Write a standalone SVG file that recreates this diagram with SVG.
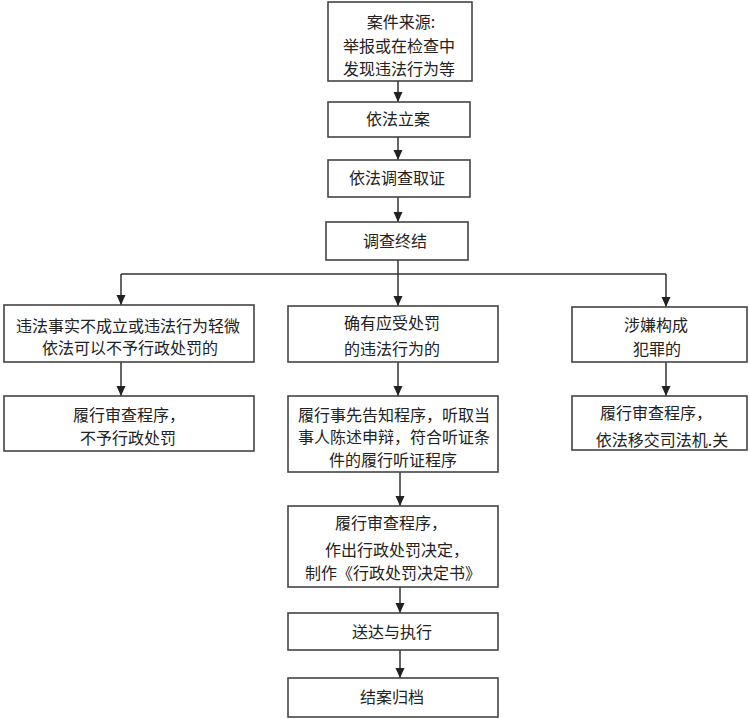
<svg xmlns="http://www.w3.org/2000/svg" width="750" height="719" viewBox="0 0 750 719">
<style>
.box{fill:#fff;stroke:#444;stroke-width:1.6}
.t{font-family:"Noto Sans CJK SC","Noto Sans",sans-serif;font-size:16px;fill:#222;text-anchor:middle}
.c{fill:none;stroke:#333;stroke-width:1.5}
</style>
<defs>
<marker id="ah" markerUnits="userSpaceOnUse" markerWidth="10" markerHeight="10" viewBox="0 0 10 10" refX="10" refY="5" orient="auto">
<path d="M0,0.5 L10,5 L0,9.5 z" fill="#222"/>
</marker>
</defs>
<rect width="750" height="719" fill="#fff"/>
<g id="connectors">
<line class="c" x1="398" y1="81" x2="398" y2="102" marker-end="url(#ah)"/>
<line class="c" x1="398" y1="137" x2="398" y2="160" marker-end="url(#ah)"/>
<line class="c" x1="398" y1="197" x2="398" y2="222" marker-end="url(#ah)"/>
<line class="c" x1="398" y1="260" x2="398" y2="306" marker-end="url(#ah)"/>
<line class="c" x1="121" y1="274" x2="666" y2="274"/>
<line class="c" x1="121" y1="274" x2="121" y2="305" marker-end="url(#ah)"/>
<line class="c" x1="666" y1="274" x2="666" y2="307" marker-end="url(#ah)"/>
<line class="c" x1="121" y1="362" x2="121" y2="396" marker-end="url(#ah)"/>
<line class="c" x1="398" y1="362" x2="398" y2="396" marker-end="url(#ah)"/>
<line class="c" x1="666" y1="362" x2="666" y2="396" marker-end="url(#ah)"/>
<line class="c" x1="400" y1="472" x2="400" y2="506" marker-end="url(#ah)"/>
<line class="c" x1="400" y1="587" x2="400" y2="613" marker-end="url(#ah)"/>
<line class="c" x1="400" y1="650" x2="400" y2="678" marker-end="url(#ah)"/>
</g>
<g id="n1"><rect class="box" x="328" y="2" width="144" height="79"/>
<text class="t" x="401" y="28">案件来源:</text>
<text class="t" x="399" y="52">举报或在检查中</text>
<text class="t" x="399" y="75">发现违法行为等</text></g>
<g id="n2"><rect class="box" x="328" y="102" width="142" height="35"/>
<text class="t" x="398" y="125">依法立案</text></g>
<g id="n3"><rect class="box" x="328" y="160" width="142" height="37"/>
<text class="t" x="397" y="184">依法调查取证</text></g>
<g id="n4"><rect class="box" x="326" y="222" width="142" height="38"/>
<text class="t" x="395" y="247">调查终结</text></g>
<g id="n5"><rect class="box" x="4" y="305" width="250" height="57"/>
<text class="t" x="128" y="332">违法事实不成立或违法行为轻微</text>
<text class="t" x="130" y="354">依法可以不予行政处罚的</text></g>
<g id="n6"><rect class="box" x="288" y="306" width="210" height="56"/>
<text class="t" x="392" y="329">确有应受处罚</text>
<text class="t" x="392" y="355">的违法行为的</text></g>
<g id="n7"><rect class="box" x="572" y="307" width="175" height="55"/>
<text class="t" x="656" y="331">涉嫌构成</text>
<text class="t" x="657" y="355">犯罪的</text></g>
<g id="n8"><rect class="box" x="4" y="396" width="250" height="55"/>
<text class="t" x="129" y="421">履行审查程序，</text>
<text class="t" x="128" y="444">不予行政处罚</text></g>
<g id="n9"><rect class="box" x="288" y="396" width="210" height="76"/>
<text class="t" x="394" y="421">履行事先告知程序，听取当</text>
<text class="t" x="394" y="443">事人陈述申辩，符合听证条</text>
<text class="t" x="393" y="466">件的履行听证程序</text></g>
<g id="n10"><rect class="box" x="572" y="396" width="175" height="54"/>
<text class="t" x="656" y="419">履行审查程序，</text>
<text class="t" x="662" y="446">依法移交司法机.关</text></g>
<g id="n11"><rect class="box" x="288" y="506" width="210" height="81"/>
<text class="t" x="391" y="529">履行审查程序，</text>
<text class="t" x="397" y="556">作出行政处罚决定，</text>
<text class="t" x="393" y="579">制作《行政处罚决定书》</text></g>
<g id="n12"><rect class="box" x="288" y="613" width="210" height="37"/>
<text class="t" x="392" y="638">送达与执行</text></g>
<g id="n13"><rect class="box" x="288" y="678" width="210" height="39"/>
<text class="t" x="392" y="703">结案归档</text></g>
</svg>
